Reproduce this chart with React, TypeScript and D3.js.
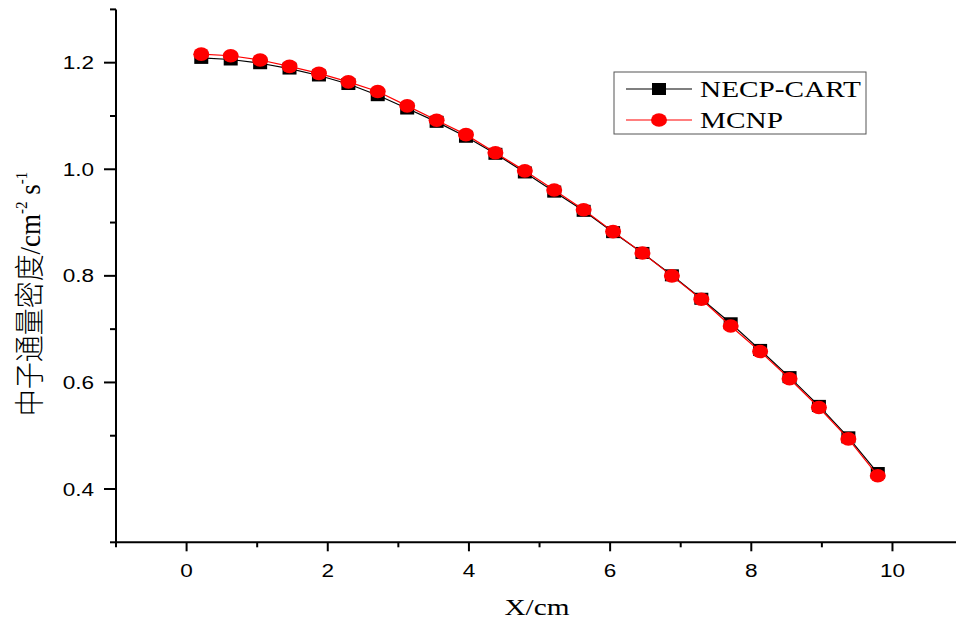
import React from "react";
import * as d3 from "d3";

// Mesh-cell centres along X (cm)
const xCentres = [
  0.208, 0.625, 1.042, 1.458, 1.875, 2.292, 2.708, 3.125, 3.542, 3.958, 4.375, 4.792,
  5.208, 5.625, 6.042, 6.458, 6.875, 7.292, 7.708, 8.125, 8.542, 8.958, 9.375, 9.792,
];
// Neutron flux density, NECP-CART
const necpFlux = [
  1.209, 1.206, 1.199, 1.189, 1.176, 1.16, 1.139, 1.114, 1.089, 1.061, 1.029, 0.994,
  0.958, 0.922, 0.882, 0.843, 0.801, 0.757, 0.711, 0.661, 0.61, 0.556, 0.497, 0.43,
];
// Neutron flux density, MCNP
const mcnpFlux = [
  1.216, 1.213, 1.205, 1.193, 1.18, 1.164, 1.146, 1.119, 1.092, 1.065, 1.031, 0.997,
  0.961, 0.924, 0.883, 0.843, 0.8, 0.756, 0.706, 0.658, 0.607, 0.553, 0.494, 0.425,
];
const xMajorTicks = [0, 2, 4, 6, 8, 10];
const xMinorTicks = [-1, 1, 3, 5, 7, 9];
const yMajorTicks = [0.4, 0.6, 0.8, 1.0, 1.2];
const yMinorTicks = [0.3, 0.5, 0.7, 0.9, 1.1, 1.3];
const seriesNames = ["NECP-CART", "MCNP"];

const W = 956;
const H = 620;
const left = 116;
const right = 956;
const top = 9.4;
const bottom = 542.3;
// glyphs are drawn slightly wide
const STRETCH = 1.22;

function WideText(props: {
  x: number;
  y: number;
  anchor?: "start" | "middle" | "end";
  family: string;
  size: number;
  children: React.ReactNode;
}) {
  return (
    <g transform={`translate(${props.x},${props.y}) scale(${STRETCH},1)`}>
      <text
        x={0}
        y={0}
        textAnchor={props.anchor ?? "start"}
        fontFamily={props.family}
        fontSize={props.size}
        fill="#000"
      >
        {props.children}
      </text>
    </g>
  );
}

export default function App() {
  const x = d3.scaleLinear().domain([-1, 10.9]).range([left, right]);
  const y = d3.scaleLinear().domain([0.3, 1.3]).range([bottom, top]);

  const necpPts: [number, number][] = xCentres.map((v, i) => [v, necpFlux[i]]);
  const mcnpPts: [number, number][] = xCentres.map((v, i) => [v, mcnpFlux[i]]);
  const line = d3
    .line<[number, number]>()
    .x((d) => x(d[0]))
    .y((d) => y(d[1]));

  const tickFont = "'Liberation Sans', Arial, sans-serif";
  const serif = "'Liberation Serif', 'Times New Roman', serif";

  return (
    <svg
      width={W}
      height={H}
      style={{ position: "absolute", left: 0, top: 0, background: "#fff" }}
    >
      {/* Series */}
      <path d={line(necpPts) ?? ""} fill="none" stroke="#000" strokeWidth={1.2} />
      {necpPts.map((d, i) => (
        <rect key={"s" + i} x={x(d[0]) - 7} y={y(d[1]) - 6} width={14} height={12} fill="#000" />
      ))}
      <path d={line(mcnpPts) ?? ""} fill="none" stroke="#ff0000" strokeWidth={1.2} />
      {mcnpPts.map((d, i) => (
        <ellipse key={"c" + i} cx={x(d[0])} cy={y(d[1])} rx={8} ry={6.8} fill="#ff0000" />
      ))}

      {/* Axes */}
      <line x1={left} x2={left} y1={top} y2={bottom + 1} stroke="#000" strokeWidth={2} />
      <line x1={left - 1} x2={right} y1={bottom} y2={bottom} stroke="#000" strokeWidth={2} />
      {yMajorTicks.map((t) => (
        <g key={"ym" + t}>
          <line x1={left - 12} x2={left} y1={y(t)} y2={y(t)} stroke="#000" strokeWidth={2} />
          <WideText x={left - 22} y={y(t) + 6.5} anchor="end" family={tickFont} size={18.5}>
            {t.toFixed(1)}
          </WideText>
        </g>
      ))}
      {yMinorTicks.map((t) => (
        <line key={"yn" + t} x1={left - 6} x2={left} y1={y(t)} y2={y(t)} stroke="#000" strokeWidth={2} />
      ))}
      {xMajorTicks.map((t) => (
        <g key={"xm" + t}>
          <line x1={x(t)} x2={x(t)} y1={bottom} y2={bottom + 9} stroke="#000" strokeWidth={2} />
          <WideText x={x(t)} y={bottom + 35} anchor="middle" family={tickFont} size={18.5}>
            {t}
          </WideText>
        </g>
      ))}
      {xMinorTicks.map((t) => (
        <line key={"xn" + t} x1={x(t)} x2={x(t)} y1={bottom} y2={bottom + 5} stroke="#000" strokeWidth={2} />
      ))}

      {/* Axis titles */}
      <WideText x={537} y={615} anchor="middle" family={serif} size={24}>
        X/cm
      </WideText>
      <g transform="translate(40, 294) rotate(-90) scale(1, 1.1)">
        <text x={0} y={0} textAnchor="middle" fontFamily={serif} fontSize={27} fill="#000">
          <tspan fontFamily="'Noto Sans CJK SC', sans-serif" fontWeight={300}>
            中子通量密度
          </tspan>
          <tspan>/cm</tspan>
          <tspan fontSize={15} dy={-12}>-2</tspan>
          <tspan dy={12}> s</tspan>
          <tspan fontSize={15} dy={-12}>-1</tspan>
        </text>
      </g>

      {/* Legend */}
      <rect x={614} y={72} width={252} height={62} fill="#fff" stroke="#555" strokeWidth={1} />
      <line x1={626} x2={692} y1={89} y2={89} stroke="#000" strokeWidth={1.2} />
      <rect x={652} y={83} width={14} height={12} fill="#000" />
      <WideText x={700} y={97} family={serif} size={24}>
        {seriesNames[0]}
      </WideText>
      <line x1={626} x2={692} y1={120} y2={120} stroke="#ff0000" strokeWidth={1.2} />
      <ellipse cx={659} cy={120} rx={8} ry={6.8} fill="#ff0000" />
      <WideText x={700} y={128} family={serif} size={24}>
        {seriesNames[1]}
      </WideText>
    </svg>
  );
}
